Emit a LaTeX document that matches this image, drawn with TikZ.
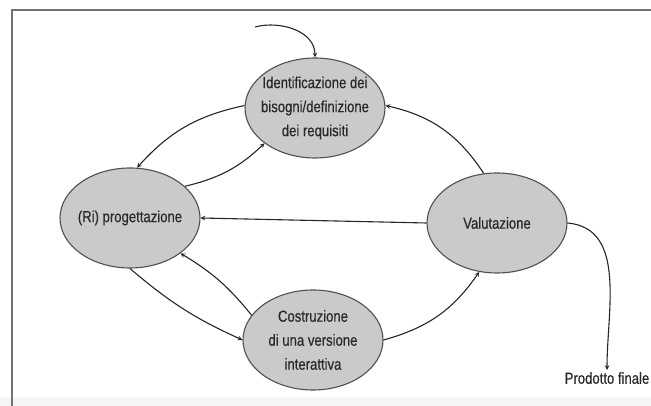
\documentclass[tikz,border=0pt]{standalone}
\usepackage{fontspec}
\setmainfont{Liberation Sans}[FakeStretch=0.82, FakeBold=0.4]
\usepackage{tikz}
\usetikzlibrary{shapes.geometric, arrows, positioning, calc}
\definecolor{fasegray}{RGB}{202,202,202}
\definecolor{bordogray}{RGB}{80,80,80}
\definecolor{testogray}{RGB}{40,40,40}
\tikzstyle{fase} = [ellipse, minimum width=140pt, minimum height=100pt, inner xsep=-6pt, inner ysep=0pt, text centered, align=center, draw=bordogray, line width=1.1pt, fill=fasegray, text=testogray, font=\fontsize{16}{24}\selectfont]
\tikzstyle{uscita} = [inner sep=2pt, text=testogray, font=\fontsize{16}{20}\selectfont]
\tikzstyle{arrow} = [line width=1.1pt,->,>=stealth, draw=black!85]

\begin{document}
\begin{tikzpicture}[x=1pt, y=1pt]
            \useasboundingbox (0,0) rectangle (651,406);
            % cornice
            \fill[black!4] (0,0) rectangle (651,9);
            \draw[black!55, line width=1.2pt] (12,-5) -- (12,396) -- (660,396);

            \node (ident) [fase] at (315,298) {Identificazione dei\\bisogni/definizione\\dei requisiti};
            \node (prog) [fase] at (130,188) {(Ri) progettazione};
            \node (val) [fase] at (497,183) {Valutazione};
            \node (cost) [fase] at (313,66) {Costruzione\\di una versione\\interattiva};
            \node (prodotto) [uscita, anchor=north] at (607,36) {Prodotto finale};
            \coordinate (ingresso) at (255,379);

            \draw [arrow] (ingresso) to[out=15, in=90] (ident.north);
            \draw [arrow] (ident.178) to[bend right=18] (prog.82);
            \draw [arrow] (prog.30) to[bend right=15] (ident.215);
            \draw [arrow] (val.105) to[bend right=22] (ident.2);
            \draw [arrow] (val.west) -- (prog.east);
            \draw [arrow] (prog.south) to[bend right=8] (cost.west);
            \draw [arrow] (cost.158) to[bend right=10] (prog.325);
            \draw [arrow] (cost.east) to[bend right=20] (val.250);
            \draw [arrow] (val.east) to[out=-5, in=90] (prodotto.north);
        \end{tikzpicture}
\end{document}
